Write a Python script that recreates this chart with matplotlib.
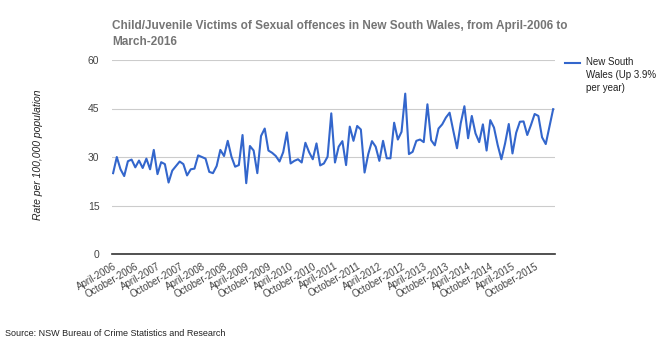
import matplotlib
matplotlib.use("Agg")
import matplotlib.pyplot as plt

plt.rcParams['font.family'] = ['Liberation Sans', 'DejaVu Sans']

values = [
    25.0, 30.0, 26.2, 24.1, 28.7, 29.2, 26.8, 28.9, 26.6, 29.5,
    26.2, 32.2, 24.7, 28.4, 27.8, 22.1, 25.8, 27.2, 28.6, 27.8,
    24.3, 26.2, 26.4, 30.5, 30.0, 29.5, 25.4, 25.0, 27.2, 32.2,
    30.3, 35.0, 30.1, 27.0, 27.5, 36.8, 21.9, 33.4, 32.0, 25.0,
    36.5, 38.8, 32.0, 31.3, 30.3, 28.6, 31.5, 37.6, 28.0, 28.8,
    29.3, 28.3, 34.4, 31.5, 29.3, 34.2, 27.4, 28.0, 30.1, 43.5,
    28.3, 33.2, 34.9, 27.5, 39.4, 35.0, 39.6, 38.5, 25.2, 30.9,
    34.9, 33.2, 28.8, 35.0, 29.6, 29.6, 40.6, 35.4, 37.8, 49.6,
    30.9, 31.6, 35.0, 35.4, 34.6, 46.3, 35.2, 33.6, 38.8, 40.1,
    42.2, 43.7, 38.1, 32.7, 40.4, 45.7, 35.8, 42.7, 37.3, 34.6,
    40.1, 32.0, 41.4, 39.1, 33.7, 29.3, 34.2, 40.2, 31.1, 37.5,
    40.9, 41.0, 36.8, 39.9, 43.3, 42.7, 36.1, 34.0, 39.4, 44.8,
]
tick_labels = []
for yr in range(2006, 2016):
    tick_labels += [f"April-{yr}", f"October-{yr}"]
y_ticks = [0, 15, 30, 45, 60]
series_name = "New South\nWales (Up 3.9%\nper year)"
title = "Child/Juvenile Victims of Sexual offences in New South Wales, from April-2006 to\nMarch-2016"
source = "Source: NSW Bureau of Crime Statistics and Research"
ylabel = "Rate per 100,000 population"

W, H = 658, 341
fig = plt.figure(figsize=(W / 100, H / 100), dpi=100)
ax = fig.add_axes([112 / W, 1 - 254 / H, (555 - 112) / W, (254 - 60) / H])

x = list(range(len(values)))
ax.plot(x, values, color='#3366cc', linewidth=1.5)

ax.set_xlim(-0.3, len(values) - 0.5)
ax.set_ylim(0, 60)
ax.set_yticks(y_ticks)
ax.set_yticklabels([str(v) for v in y_ticks], fontsize=7.5, color='#444444')
ax.grid(axis='y', color='#cccccc', linewidth=0.8)
ax.set_axisbelow(True)
for s in ['top', 'right', 'left']:
    ax.spines[s].set_visible(False)
ax.spines['bottom'].set_color('#333333')
ax.spines['bottom'].set_linewidth(1.2)
ax.tick_params(axis='both', length=0, pad=9)

ax.set_xticks(list(range(0, len(values), 6)))
ax.set_xticklabels(tick_labels, rotation=30, ha='right', rotation_mode='anchor',
                   fontsize=7, color='#444444')
ax.tick_params(axis='x', pad=5)

fig.text(38 / W, 1 - 155 / H, ylabel, fontsize=7.5, style='italic', color='#222222',
         rotation=90, ha='center', va='center')

fig.text(112 / W, 1 - 34 / H, title, fontsize=8.5, fontweight='bold', color='#757575',
         ha='left', va='center', linespacing=1.35)

fig.text(5 / W, 1 - 333 / H, source, fontsize=6.5, color='#222222', ha='left', va='center')

# legend
fig.add_artist(plt.Line2D([565 / W, 580 / W], [1 - 63 / H, 1 - 63 / H],
                          color='#3366cc', linewidth=1.5, transform=fig.transFigure))
fig.text(586 / W, 1 - 57 / H, series_name, fontsize=7, color='#222222',
         ha='left', va='top', linespacing=1.35)

fig.savefig("out.png", dpi=100, facecolor='white')
